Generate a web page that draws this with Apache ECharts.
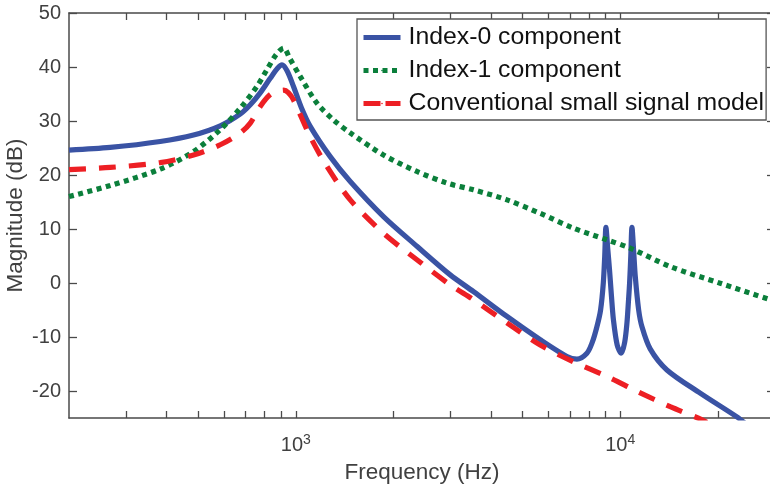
<!DOCTYPE html>
<html>
<head>
<meta charset="utf-8">
<script src="https://cdn.jsdelivr.net/npm/echarts@6/dist/echarts.min.js"></script>
<style>html,body{margin:0;padding:0;background:#fff}#c{width:770px;height:490px}</style>
</head>
<body>
<div id="c"></div>
<script>
// ---- data (frequency in Hz, magnitude in dB) ----
const freq0 = [200,268,382,484,585,675,724,777,834,880,907,940,984,1040,1108,1277,1472,1864,2363,2993,3531,4477,5668,6850,7354,7895,8200,8476,8700,8870,8960,9036,9150,9268,9400,9530,9790,10070,10320,10490,10600,10690,10780,10870,11000,11130,11400,11670,12370,13930,17640,22890,24270];
const mag0  = [24.6,25.1,26.2,27.4,29.1,31.3,33.0,35.2,37.9,39.8,40.4,39.3,36.4,32.5,29.0,23.4,18.8,12.3,6.8,1.5,-1.6,-6.2,-10.5,-13.6,-14.1,-13.0,-11.0,-8.1,-5.0,0,5,10.3,6.5,2.5,-2.5,-6.8,-11.5,-13.0,-11.0,-7.4,-3.5,0,5,10.3,6.0,1.2,-5.0,-8.1,-12.2,-16.1,-20.4,-24.8,-26];

const freq1 = [200,268,382,484,585,675,759,815,870,917,960,1032,1162,1307,1472,1864,2363,2924,3531,4477,5668,7179,9100,10735,14260,20330,28990,30000];
const mag1  = [16.0,18.05,21.1,24.35,28.4,32.4,36.4,39.5,42.3,43.5,41.5,38.25,33.3,30.2,27.8,23.7,20.65,18.5,17.25,15.4,12.9,10.15,8.0,6.45,3.04,-0.04,-3.1,-3.3];

const freqC = [200,268,382,484,585,675,724,777,834,880,917,950,984,1108,1247,1472,1864,2363,2993,3531,4477,5668,7179,9100,11400,14260,17360,18500];
const magC  = [21.0,21.4,22.3,23.7,25.6,27.8,29.6,32.7,34.9,35.5,35.7,35.2,33.9,27.1,21.6,15.4,9.2,4.3,-0.35,-3.1,-7.4,-11.5,-14.6,-17.3,-20.2,-22.9,-25.0,-25.8];

const seriesNames = ['Index-0 component','Index-1 component','Conventional small signal model'];
const xMin = 200, xMax = 30000;
const xMajorTicks = [1000, 10000];
const xMinorTicks = [300,400,500,600,700,800,900,2000,3000,4000,5000,6000,7000,8000,9000,20000];
const yMin = -25, yMax = 50;
const yTicks = [-20,-10,0,10,20,30,40,50];

// ---- build ----
const lg = v => Math.log10(v);
const pairs = (f, m) => f.map((v, i) => [lg(v), m[i]]);
const allXTicks = xMinorTicks.concat(xMajorTicks).map(lg).sort((a,b)=>a-b);

const FONT = 'Liberation Sans, Arial, Helvetica, sans-serif';
const AX = '#4a4a4a';
const TXT = '#404040';
const C0 = '#3A53A4', C1 = '#0B7F3B', C2 = '#ED1F24';

const chart = echarts.init(document.getElementById('c'), null, {renderer: 'canvas'});
const baseX = {
  type: 'value', min: lg(xMin), max: lg(xMax),
  axisLine: {show: true, onZero: false, lineStyle: {color: AX, width: 1.5}},
  axisTick: {show: true, inside: true, length: 7, customValues: allXTicks, lineStyle: {color: AX, width: 1.3}},
  splitLine: {show: false}
};
const baseY = {
  type: 'value', min: yMin, max: yMax,
  axisLine: {show: true, onZero: false, lineStyle: {color: AX, width: 1.5}},
  axisTick: {show: true, inside: true, length: 8, customValues: yTicks, lineStyle: {color: AX, width: 1.3}},
  splitLine: {show: false}
};

chart.setOption({
  animation: false,
  backgroundColor: '#fff',
  textStyle: {fontFamily: FONT},
  grid: {left: 69, top: 13, width: 706, height: 405, containLabel: false, outerBoundsMode: 'none'},
  xAxis: [
    Object.assign({}, baseX, {
      position: 'bottom',
      name: 'Frequency (Hz)', nameLocation: 'middle', nameGap: 43, nameMoveOverlap: false,
      nameTextStyle: {fontSize: 22.5, color: TXT, fontFamily: FONT},
      axisLabel: {
        show: true, margin: 15, customValues: xMajorTicks.map(lg),
        formatter: v => '{b|10}{s|' + Math.round(v) + '}',
        rich: {
          b: {fontSize: 20, color: TXT, fontFamily: FONT, lineHeight: 20},
          s: {fontSize: 14, color: TXT, fontFamily: FONT, padding: [0,0,10,0]}
        }
      }
    }),
    Object.assign({}, baseX, {position: 'top', axisLabel: {show: false}})
  ],
  yAxis: [
    Object.assign({}, baseY, {
      position: 'left',
      name: 'Magnitude (dB)', nameLocation: 'middle', nameGap: 42, nameRotate: 90, nameMoveOverlap: false,
      nameTextStyle: {fontSize: 22.5, color: TXT, fontFamily: FONT},
      axisLabel: {show: true, margin: 8, customValues: yTicks, fontSize: 20, color: TXT, fontFamily: FONT}
    }),
    Object.assign({}, baseY, {position: 'right', axisLabel: {show: false}})
  ],
  legend: {
    show: true, orient: 'vertical', left: 357, top: 19,
    backgroundColor: '#fff', borderColor: '#555', borderWidth: 1.3, borderRadius: 0,
    padding: [5, 2, 3, 4], itemGap: 6, itemWidth: 37, itemHeight: 2,
    textStyle: {fontSize: 24.8, color: '#111', fontFamily: FONT, lineHeight: 27, padding: [0,0,0,3]},
    data: [
      {name: seriesNames[0], lineStyle: {type: 'solid', width: 5, color: C0, cap: 'butt'}},
      {name: seriesNames[1], lineStyle: {type: [5, 4.5], width: 5, color: C1, cap: 'butt'}},
      {name: seriesNames[2], lineStyle: {type: [17, 5], width: 5, color: C2, cap: 'butt'}}
    ]
  },
  series: [
    {name: seriesNames[0], type: 'line', data: pairs(freq0, mag0), showSymbol: false, symbol: 'none', clip: true,
     smooth: 0.3,
     lineStyle: {color: C0, width: 5.2, cap: 'butt', join: 'round'}, itemStyle: {color: C0}},
    {name: seriesNames[1], type: 'line', data: pairs(freq1, mag1), showSymbol: false, symbol: 'none', clip: true,
     smooth: 0.3,
     lineStyle: {color: C1, width: 5.2, type: [5, 4.5], cap: 'butt'}, itemStyle: {color: C1}},
    {name: seriesNames[2], type: 'line', data: pairs(freqC, magC), showSymbol: false, symbol: 'none', clip: true,
     smooth: 0.3,
     lineStyle: {color: C2, width: 5.2, type: [17, 13], cap: 'butt'}, itemStyle: {color: C2}}
  ]
});
</script>
</body>
</html>
